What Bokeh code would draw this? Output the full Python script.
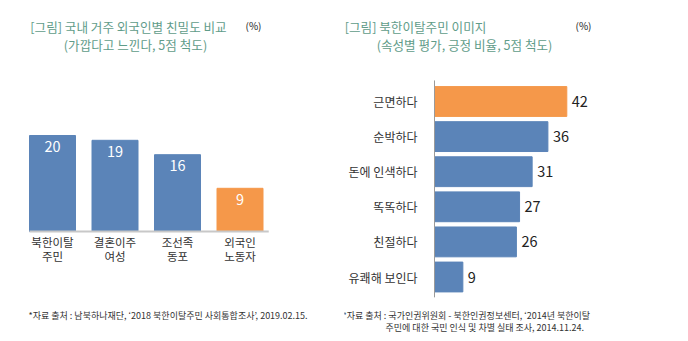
import numpy as np
from bokeh.plotting import figure
from bokeh.layouts import row
from bokeh.models import ColumnDataSource, Range1d, Label
from bokeh.core.properties import value
from bokeh.embed import file_html
from bokeh.resources import INLINE

# ---- data ----
left_cats = ["북한이탈\n주민", "결혼이주\n여성", "조선족\n동포", "외국인\n노동자"]
left_vals = [20, 19, 16, 9]
left_highlight = "외국인\n노동자"

right_cats = ["근면하다", "순박하다", "돈에 인색하다", "똑똑하다", "친절하다", "유쾌해 보인다"]
right_vals = [42, 36, 31, 27, 26, 9]
right_highlight = "근면하다"

left_title = ["[그림] 국내 거주 외국인별 친밀도 비교", "(가깝다고 느낀다, 5점 척도)"]
right_title = ["[그림] 북한이탈주민 이미지", "(속성별 평가, 긍정 비율, 5점 척도)"]
unit_text = "(%)"
left_source = "*자료 출처 : 남북하나재단, ‘2018 북한이탈주민 사회통합조사’, 2019.02.15."
right_source = ["*자료 출처 : 국가인권위원회  - 북한인권정보센터, ‘2014년 북한이탈",
                "주민에 대한 국민 인식 및 차별 실태 조사, 2014.11.24."]

FONT = "Noto Sans CJK KR"
BLUE = "#5b84b8"
ORANGE = "#f5984a"
TEAL = "#5f9c89"
DARK = "#333333"
W, H = 344, 341


def make_fig(xr, yr):
    p = figure(width=W, height=H, x_range=xr, y_range=yr, output_backend="svg",
               toolbar_location=None, x_axis_location=None, y_axis_location=None,
               min_border=0, min_border_left=0, min_border_right=0,
               min_border_top=0, min_border_bottom=0)
    p.xgrid.grid_line_color = None
    p.ygrid.grid_line_color = None
    p.outline_line_color = None
    return p


def lab(p, cx, cy, text, size, color, align="center"):
    p.add_layout(Label(x=cx, y=H - cy, x_units="screen", y_units="screen", text=text,
                       text_font=FONT, text_font_size=size, text_color=color,
                       text_align=align, text_baseline="middle"))


# ---- left chart: column chart ----
PITCH, X0PX, BASE, PXU = 62.5, 52, 231, 4.8
BAR_W = 0.736
p1 = make_fig(Range1d(-X0PX / PITCH, (W - X0PX) / PITCH),
              Range1d(-(H - BASE) / PXU, BASE / PXU))
x1 = np.arange(len(left_cats))
src1 = ColumnDataSource(dict(x=x1, cat=left_cats, val=left_vals, zero=[0] * len(left_cats),
                             color=[ORANGE if c == left_highlight else BLUE for c in left_cats],
                             label=[str(v) for v in left_vals]))
p1.vbar(x="x", top="val", width=BAR_W, color="color", source=src1)
p1.segment(x0=[-BAR_W / 2], x1=[len(left_cats) - 1 + 0.46], y0=[0], y1=[0],
           line_color="#c8c8c8", line_width=2)
p1.text(x="x", y="val", text="label", source=src1, text_align="center", text_baseline="middle",
        y_offset=11, text_color="white", text_font=value(FONT), text_font_size="14.5px")
p1.text(x="x", y="zero", text="cat", source=src1, text_align="center", text_baseline="middle",
        y_offset=17.5, text_color=DARK, text_font=value(FONT), text_font_size="11.5px",
        text_line_height=0.82)

lab(p1, 128, 26, left_title[0], "12.6px", TEAL)
lab(p1, 135, 44, left_title[1], "12.6px", TEAL)
lab(p1, 245, 25, unit_text, "10px", "#222222", "left")
lab(p1, 28, 315, left_source, "9px", DARK, "left")

# ---- right chart: horizontal bars ----
AXPX, SC, TOPC, RP = 90, 3.15, 101, 35.1
p2 = make_fig(Range1d(-AXPX / SC, (W - AXPX) / SC),
              Range1d((H - TOPC) / RP, -TOPC / RP))
y2 = np.arange(len(right_cats))
src2 = ColumnDataSource(dict(y=y2, cat=right_cats, val=right_vals, zero=[0] * len(right_cats),
                             color=[ORANGE if c == right_highlight else BLUE for c in right_cats],
                             label=[str(v) for v in right_vals]))
p2.hbar(y="y", right="val", height=0.85, color="color", source=src2)
p2.segment(x0=[0], x1=[0], y0=[-0.6], y1=[len(right_cats) - 1 + 0.58],
           line_color="#9a9a9a", line_width=1)
p2.text(x="val", y="y", text="label", source=src2, text_align="left", text_baseline="middle",
        x_offset=5, text_color="#222222", text_font=value(FONT), text_font_size="14.5px")
p2.text(x="zero", y="y", text="cat", source=src2, text_align="right", text_baseline="middle",
        x_offset=-17, text_color=DARK, text_font=value(FONT), text_font_size="12px")

OFF = 344
lab(p2, 415 - OFF, 26, right_title[0], "12.6px", TEAL)
lab(p2, 464 - OFF, 44, right_title[1], "12.6px", TEAL)
lab(p2, 575 - OFF, 25, unit_text, "10px", "#222222", "left")
lab(p2, 342 - OFF, 315, right_source[0], "9px", DARK, "left")
lab(p2, 385 - OFF, 327, right_source[1], "9px", DARK, "left")

layout = row(p1, p2)
open("out.html", "w").write(file_html(layout, INLINE))
